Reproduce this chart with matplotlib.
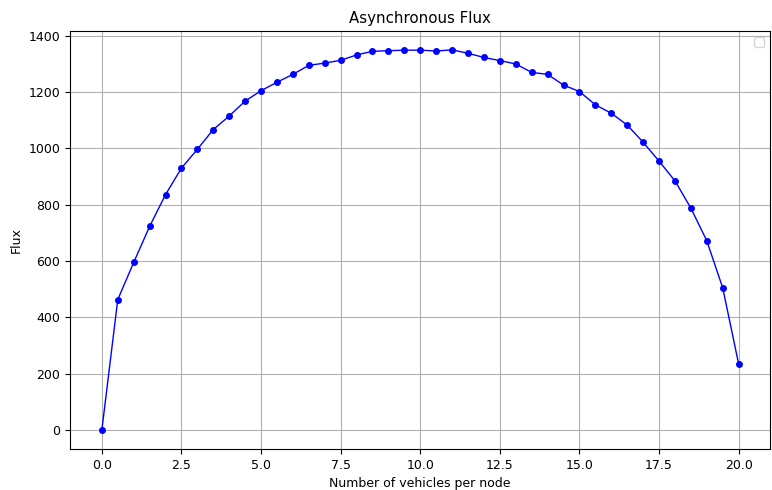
import matplotlib
matplotlib.use('agg')
from matplotlib import pyplot as plt

# vehicles per node and measured flux
density = [0.0, 0.5, 1.0, 1.5, 2.0, 2.5, 3.0, 3.5, 4.0, 4.5, 5.0, 5.5, 6.0, 6.5,
           7.0, 7.5, 8.0, 8.5, 9.0, 9.5, 10.0, 10.5, 11.0, 11.5, 12.0, 12.5,
           13.0, 13.5, 14.0, 14.5, 15.0, 15.5, 16.0, 16.5, 17.0, 17.5, 18.0,
           18.5, 19.0, 19.5, 20.0]
flux = [0, 463, 595, 723, 836, 930, 997, 1067, 1115, 1168, 1205, 1235, 1263,
        1295, 1303, 1313, 1332, 1345, 1347, 1349, 1349, 1346, 1350, 1338, 1323,
        1312, 1300, 1270, 1263, 1225, 1202, 1155, 1125, 1083, 1022, 955, 885,
        788, 672, 505, 235]

plt.rcParams['font.size'] = 9
plt.figure(figsize=(7.72, 4.9), dpi=100)
plt.plot(density, flux, 'o-', color='blue', markersize=4, linewidth=1)
plt.title('Asynchronous Flux', fontsize=10.8)
plt.xlabel('Number of vehicles per node')
plt.ylabel('Flux')
plt.grid(True)
plt.legend()
plt.subplots_adjust(left=0.0907, right=0.998, top=0.937, bottom=0.0837)
plt.savefig('out.png', dpi=100)
